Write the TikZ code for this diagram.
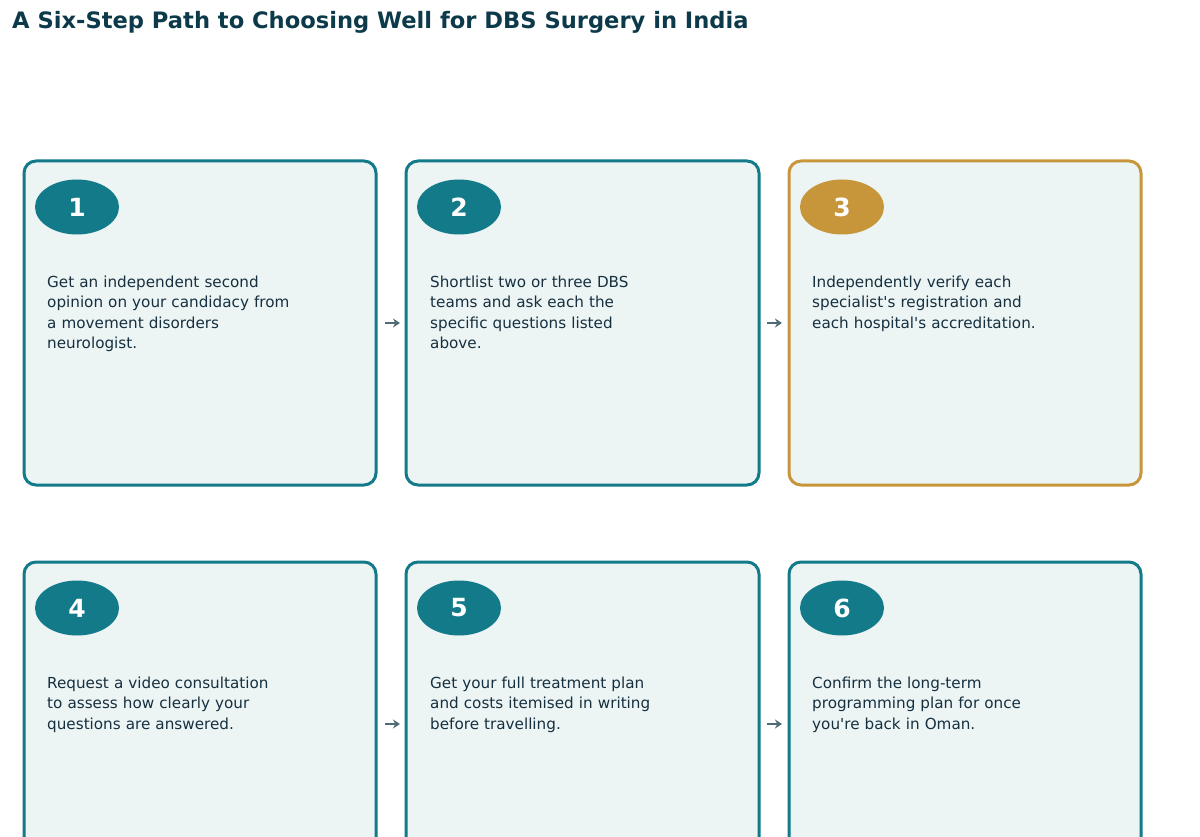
\documentclass[tikz,border=0pt]{standalone}
\usepackage{fontspec}
\setmainfont{DejaVu Sans}
\usetikzlibrary{shapes.geometric,arrows.meta}
\definecolor{teal}{HTML}{137A8A}
\definecolor{gold}{HTML}{C8963A}
\definecolor{boxfill}{HTML}{ECF4F4}
\definecolor{titlec}{HTML}{0D3A4A}
\definecolor{textc}{HTML}{163040}
\definecolor{arrc}{HTML}{4F6B73}
\begin{document}
\begin{tikzpicture}[x=1pt,y=-1pt,
  card/.style={draw=#1,line width=3pt,fill=boxfill,rounded corners=12pt},
  badge/.style={ellipse,fill=#1,minimum width=84pt,minimum height=55pt,inner sep=0pt,text=white,font=\bfseries\fontsize{25}{25}\selectfont},
  body/.style={anchor=north west,align=left,text=textc,font=\fontsize{15.2}{20.2}\selectfont,inner sep=0pt,text width=280pt},
  arr/.style={-{Stealth[length=7pt,width=9pt]},draw=arrc,line width=2.4pt}]
\useasboundingbox (0,0) rectangle (1200,837);
\clip (0,0) rectangle (1200,837);
\node[anchor=west,inner sep=0pt,text=titlec,font=\bfseries\fontsize{22.6}{24}\selectfont] (title) at (12,22) {A Six-Step Path to Choosing Well for DBS Surgery in India};
% row 1
\draw[card=teal] (24,161) rectangle (376,485);
\draw[card=teal] (406,161) rectangle (759,485);
\draw[card=gold] (789,161) rectangle (1141,485);
\node[badge=teal] (b1) at (77,207) {1};
\node[badge=teal] (b2) at (459,207) {2};
\node[badge=gold] (b3) at (842,207) {3};
\node[body] (t1) at (47,276) {Get an independent second\\opinion on your candidacy from\\a movement disorders\\neurologist.};
\node[body] (t2) at (430,276) {Shortlist two or three DBS\\teams and ask each the\\specific questions listed\\above.};
\node[body] (t3) at (812,276) {Independently verify each\\specialist\textquotesingle s registration and\\each hospital\textquotesingle s accreditation.};
\coordinate (a1s) at (385,323); \coordinate (a1e) at (400,323);
\coordinate (a2s) at (767,323); \coordinate (a2e) at (782,323);
\draw[arr] (a1s) -- (a1e);
\draw[arr] (a2s) -- (a2e);
% row 2
\draw[card=teal] (24,562) rectangle (376,900);
\draw[card=teal] (406,562) rectangle (759,900);
\draw[card=teal] (789,562) rectangle (1141,900);
\node[badge=teal] (b4) at (77,608) {4};
\node[badge=teal] (b5) at (459,608) {5};
\node[badge=teal] (b6) at (842,608) {6};
\node[body] (t4) at (47,677) {Request a video consultation\\to assess how clearly your\\questions are answered.};
\node[body] (t5) at (430,677) {Get your full treatment plan\\and costs itemised in writing\\before travelling.};
\node[body] (t6) at (812,677) {Confirm the long-term\\programming plan for once\\you\textquotesingle re back in Oman.};
\coordinate (a3s) at (385,724); \coordinate (a3e) at (400,724);
\coordinate (a4s) at (767,724); \coordinate (a4e) at (782,724);
\draw[arr] (a3s) -- (a3e);
\draw[arr] (a4s) -- (a4e);
\end{tikzpicture}
\end{document}
